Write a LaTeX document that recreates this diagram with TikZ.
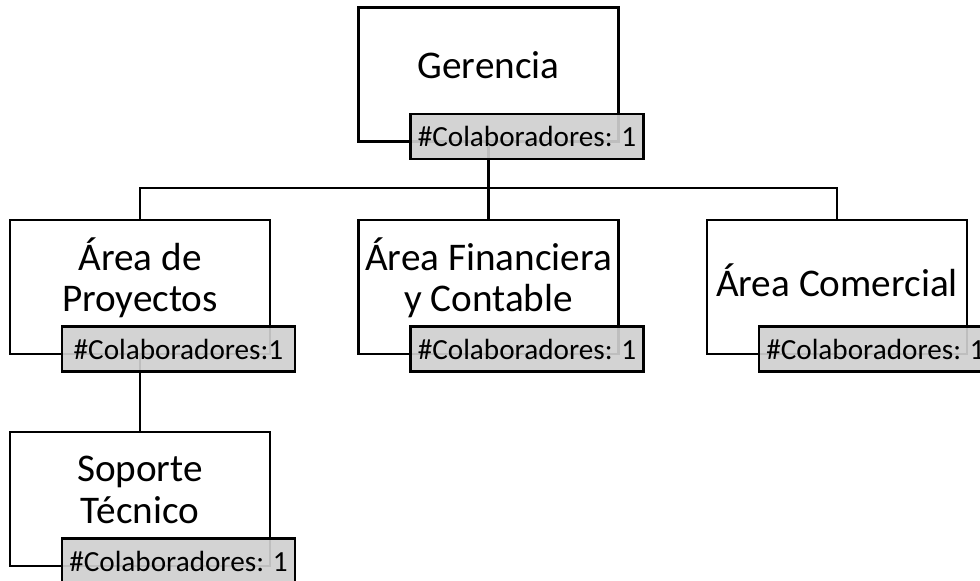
\documentclass[tikz,border=0pt]{standalone}
\usepackage{fontspec}
\setmainfont{Carlito}
\usetikzlibrary{positioning}

\tikzset{
    unit/.style={draw, line width=1.3pt, minimum width=130pt, minimum height=67pt, inner sep=0pt},
    unittext/.style={align=center, inner sep=0pt, font=\fontsize{19.6}{20.6}\selectfont},
    staff/.style={draw, line width=1.3pt, fill=black!19, fill opacity=0.92, text opacity=1,
        minimum width=116.5pt, minimum height=22.5pt, inner sep=0pt, font=\fontsize{14.6}{16}\selectfont},
    link/.style={line width=1.3pt}
}

\begin{document}
\begin{tikzpicture}[x=0.5pt, y=-0.5pt]
    \useasboundingbox (0,0) rectangle (980,580);
    \clip (0,0) rectangle (980,580);

    % unidades
    \node[unit] (ger) at (488.5,74.5) {};
    \node[unit] (proy) at (140,287) {};
    \node[unit] (fin) at (488.5,287) {};
    \node[unit] (com) at (837,287) {};
    \node[unit] (sop) at (140,499) {};

    \node[unittext] (gerTxt) at ([yshift=4.5pt]ger.center) {Gerencia};
    \node[unittext] (proyTxt) at ([yshift=4.5pt]proy.center) {Área de\\Proyectos};
    \node[unittext] (finTxt) at ([yshift=4.5pt]fin.center) {Área Financiera\\y Contable};
    \node[unittext] (comTxt) at ([yshift=3.5pt]com.center) {Área Comercial};
    \node[unittext] (sopTxt) at ([yshift=4.5pt]sop.center) {Soporte\\Técnico};

    % conectores
    \coordinate (bus) at (488.5,188);
    \draw[link] (ger.south) -- (fin.north);
    \draw[link] (proy.north) |- (bus) -| (com.north);
    \draw[link] (proy.south) -- (sop.north);

    % colaboradores
    \node[staff, anchor=north west] (gerStaff) at ([xshift=26pt, yshift=15pt]ger.south west) {\#Colaboradores: 1};
    \node[staff, anchor=north west] (proyStaff) at ([xshift=26pt, yshift=15pt]proy.south west) {\#Colaboradores:1};
    \node[staff, anchor=north west] (finStaff) at ([xshift=26pt, yshift=15pt]fin.south west) {\#Colaboradores: 1};
    \node[staff, anchor=north west] (comStaff) at ([xshift=26pt, yshift=15pt]com.south west) {\#Colaboradores: 1};
    \node[staff, anchor=north west] (sopStaff) at ([xshift=26pt, yshift=15pt]sop.south west) {\#Colaboradores: 1};
\end{tikzpicture}
\end{document}
